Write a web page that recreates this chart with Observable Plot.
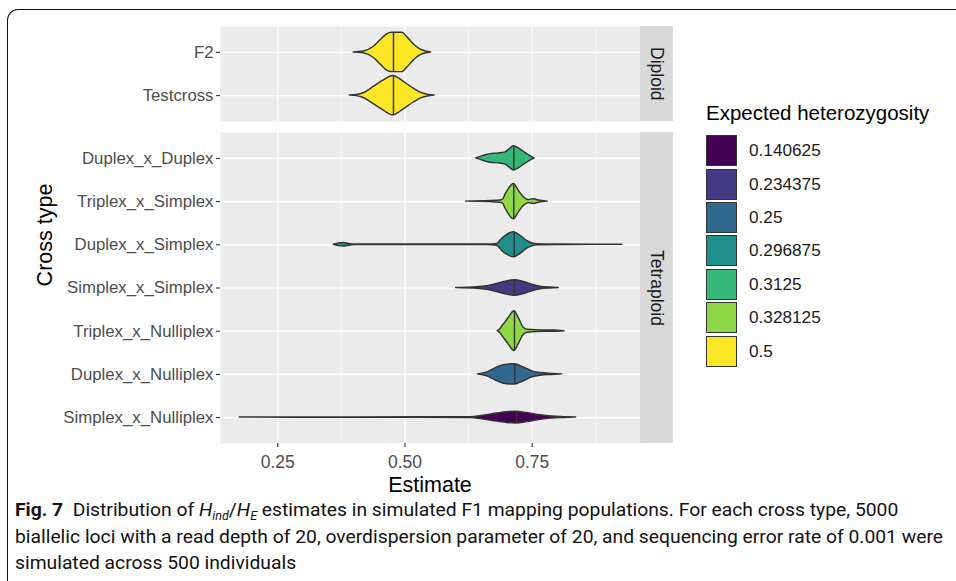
<!DOCTYPE html>
<html>
<head>
<meta charset="utf-8">
<script src="https://cdn.jsdelivr.net/npm/d3@7"></script>
<script src="https://cdn.jsdelivr.net/npm/@observablehq/plot@0.6"></script>
<style>
  html, body { margin: 0; padding: 0; background: #fff; }
  body { width: 956px; height: 581px; overflow: hidden; position: relative; font-family: "Liberation Sans", Arial, sans-serif; }
  #frame { position: absolute; left: 7px; top: 9px; width: 1000px; height: 620px; border-left: 1.5px solid #111; border-top: 1.5px solid #111; border-top-left-radius: 11px; }
  .abs { position: absolute; }
  .strip { position: absolute; background: #D9D9D9; display: flex; align-items: center; justify-content: center; }
  .strip span { writing-mode: vertical-rl; font-size: 17.5px; color: #1A1A1A; }
  #ylab { position: absolute; left: 45px; top: 235px; transform: translate(-50%, -50%) rotate(-90deg); font-size: 21.5px; color: #000; white-space: nowrap; }
  #xlab { position: absolute; left: 430px; top: 485px; transform: translate(-50%, -50%); font-size: 21.5px; color: #000; white-space: nowrap; }
  #legend { position: absolute; left: 706px; top: 101px; }
  #legend .title { font-size: 20.5px; color: #000; white-space: nowrap; height: 33px; }
  #legend .row { display: flex; align-items: center; height: 33.4px; }
  #legend .key { width: 29px; height: 29px; border: 1.4px solid #333; box-sizing: content-box; }
  #legend .lab { margin-left: 12px; font-size: 17.2px; color: #1A1A1A; }
  #caption { position: absolute; left: 15px; top: 497px; font-family: "Roboto", "Noto Sans", sans-serif; font-size: 18.5px; color: #111; transform-origin: 0 0; }
  #caption .line { white-space: nowrap; height: 26.5px; line-height: 26.5px; }
  #caption b { font-weight: bold; }
  #caption sub { font-size: 12px; line-height: 0; vertical-align: -4px; }
</style>
</head>
<body>
<div id="frame"></div>
<div id="topPlot" class="abs" style="left:0;top:0"></div>
<div id="botPlot" class="abs" style="left:0;top:121px"></div>
<div class="strip" style="left:640px;top:26px;width:33px;height:95px"><span>Diploid</span></div>
<div class="strip" style="left:640px;top:132px;width:33px;height:311px"><span>Tetraploid</span></div>
<div id="ylab">Cross type</div>
<div id="xlab">Estimate</div>
<div id="legend"></div>
<div id="caption">
  <div class="line"><b>Fig. 7</b>&nbsp; Distribution of <i>H<sub>ind</sub></i>/<i>H<sub>E</sub></i> estimates in simulated F1 mapping populations. For each cross type, 5000</div>
  <div class="line" id="capLine2">biallelic loci with a read depth of 20, overdispersion parameter of 20, and sequencing error rate of 0.001 were</div>
  <div class="line">simulated across 500 individuals</div>
</div>
<script>
// ---------------- data ----------------
const diploidTypes = ["F2", "Testcross"];
const tetraploidTypes = ["Duplex_x_Duplex", "Triplex_x_Simplex", "Duplex_x_Simplex", "Simplex_x_Simplex", "Triplex_x_Nulliplex", "Duplex_x_Nulliplex", "Simplex_x_Nulliplex"];
const hetLevels = ["0.140625", "0.234375", "0.25", "0.296875", "0.3125", "0.328125", "0.5"];
const hetByType = {
  F2: "0.5", Testcross: "0.5",
  Duplex_x_Duplex: "0.3125", Triplex_x_Simplex: "0.328125", Duplex_x_Simplex: "0.296875",
  Simplex_x_Simplex: "0.234375", Triplex_x_Nulliplex: "0.328125", Duplex_x_Nulliplex: "0.25",
  Simplex_x_Nulliplex: "0.140625"
};
// medians of estimates and half-width of the violin at the median (category units)
const medianByType = {
  F2: 0.4774, Testcross: 0.4774, Duplex_x_Duplex: 0.7138, Triplex_x_Simplex: 0.7138,
  Duplex_x_Simplex: 0.7147, Simplex_x_Simplex: 0.7152, Triplex_x_Nulliplex: 0.7152,
  Duplex_x_Nulliplex: 0.7158, Simplex_x_Nulliplex: 0.7192
};
const medianWidthByType = {
  F2: 0.456, Testcross: 0.456, Duplex_x_Duplex: 0.28, Triplex_x_Simplex: 0.41,
  Duplex_x_Simplex: 0.29, Simplex_x_Simplex: 0.18, Triplex_x_Nulliplex: 0.46,
  Duplex_x_Nulliplex: 0.235, Simplex_x_Nulliplex: 0.135
};
// violin profiles: [estimate, half-width in category units]
const profileF2 = [[0.399,0],[0.419,0.02],[0.439,0.13],[0.452,0.28],[0.465,0.42],[0.475,0.456],[0.4945,0.456],[0.504,0.36],[0.517,0.19],[0.530,0.07],[0.541,0.02],[0.5515,0]];
const profileTestcross = [[0.3915,0],[0.405,0.012],[0.419,0.055],[0.4387,0.2],[0.4583,0.35],[0.4768,0.456],[0.4977,0.32],[0.5173,0.16],[0.5305,0.07],[0.545,0.02],[0.558,0]];
const profileDuplexDuplex = [[0.640,0],[0.655,0.06],[0.668,0.1],[0.684,0.115],[0.6975,0.14],[0.706,0.215],[0.7138,0.28],[0.7237,0.23],[0.7335,0.15],[0.7433,0.075],[0.755,0]];
const profileTriplexSimplex = [[0.620,0],[0.668,0.012],[0.6877,0.025],[0.693,0.05],[0.6975,0.16],[0.704,0.29],[0.7138,0.41],[0.7237,0.25],[0.7335,0.1],[0.7433,0.035],[0.7532,0.055],[0.763,0.025],[0.7807,0]];
const profileDuplexSimplex = [[0.360,0],[0.370,0.03],[0.380,0.04],[0.390,0.02],[0.400,0.005],[0.500,0.005],[0.660,0.005],[0.681,0.02],[0.691,0.14],[0.7008,0.23],[0.7138,0.29],[0.727,0.21],[0.740,0.09],[0.750,0.035],[0.7597,0.012],[0.800,0.005],[0.927,0]];
const profileSimplexSimplex = [[0.6006,0],[0.6419,0.016],[0.6615,0.04],[0.6812,0.093],[0.6975,0.146],[0.7152,0.18],[0.7335,0.14],[0.750,0.076],[0.7663,0.03],[0.785,0.01],[0.8022,0]];
const profileTriplexNulliplex = [[0.6824,0],[0.6877,0.053],[0.6942,0.155],[0.704,0.31],[0.7152,0.46],[0.7237,0.3],[0.7335,0.08],[0.7414,0.035],[0.7728,0.016],[0.7924,0.016],[0.8135,0]];
const profileDuplexNulliplex = [[0.6431,0],[0.6615,0.046],[0.6779,0.14],[0.6942,0.215],[0.7158,0.235],[0.7335,0.16],[0.750,0.07],[0.7663,0.03],[0.790,0.012],[0.809,0]];
const profileSimplexNulliplex = [[0.1753,0],[0.400,0.004],[0.6287,0.01],[0.6549,0.046],[0.6812,0.093],[0.7008,0.125],[0.7191,0.135],[0.7402,0.105],[0.7663,0.053],[0.7893,0.023],[0.8121,0.01],[0.8365,0]];
const profiles = {
  F2: profileF2, Testcross: profileTestcross,
  Duplex_x_Duplex: profileDuplexDuplex, Triplex_x_Simplex: profileTriplexSimplex,
  Duplex_x_Simplex: profileDuplexSimplex, Simplex_x_Simplex: profileSimplexSimplex,
  Triplex_x_Nulliplex: profileTriplexNulliplex, Duplex_x_Nulliplex: profileDuplexNulliplex,
  Simplex_x_Nulliplex: profileSimplexNulliplex
};
const xDomain = [0.1374, 0.9629];
const majorBreaks = [0.25, 0.50, 0.75];
const minorBreaks = [0.375, 0.625, 0.875];
const viridis7 = ["#440154", "#443A83", "#31688E", "#21908C", "#35B779", "#8FD744", "#FDE725"];

// ---------------- build ----------------
function violinRows(types) {
  const rows = [];
  types.forEach((t, i) => {
    profiles[t].forEach(([v, hw]) => rows.push({type: t, v, lo: i - hw, hi: i + hw, het: hetByType[t]}));
  });
  return rows;
}
function medianRows(types) {
  return types.map((t, i) => ({type: t, m: medianByType[t], lo: i - medianWidthByType[t], hi: i + medianWidthByType[t]}));
}
function panel(types, opts) {
  const n = types.length;
  const idx = d3.range(n);
  const marks = [
    Plot.frame({fill: "#EBEBEB", stroke: null}),
    Plot.gridX(minorBreaks, {stroke: "#fff", strokeOpacity: 1, strokeWidth: 0.6}),
    Plot.gridX(majorBreaks, {stroke: "#fff", strokeOpacity: 1, strokeWidth: 1.2}),
    Plot.gridY(idx, {stroke: "#fff", strokeOpacity: 1, strokeWidth: 1.2}),
    Plot.axisY(idx, {tickFormat: i => types[i], tickSize: 4, tickPadding: 3, label: null, fontSize: 16.8, stroke: "#333", strokeWidth: 1.1}),
    Plot.areaY(violinRows(types), {x: "v", y1: "lo", y2: "hi", z: "type", fill: "het", stroke: "#333", strokeWidth: 1.45, curve: "monotone-x"}),
    Plot.ruleX(medianRows(types), {x: "m", y1: "lo", y2: "hi", stroke: "#333", strokeWidth: 1.45})
  ];
  if (opts.xAxis) {
    marks.push(Plot.axisX(majorBreaks, {tickFormat: d3.format(".2f"), tickSize: 4, tickPadding: 8, label: null, fontSize: 17.5, stroke: "#333", strokeWidth: 1.1}));
  }
  return Plot.plot({
    width: 640,
    height: opts.height,
    marginLeft: 220, marginRight: 0, marginTop: opts.marginTop, marginBottom: opts.marginBottom,
    style: {background: "transparent", color: "#4D4D4D", fontFamily: "'Liberation Sans', Arial, sans-serif", overflow: "visible"},
    x: {domain: xDomain, axis: null},
    y: {domain: [-0.6, n - 0.4], reverse: true, axis: null},
    color: {domain: hetLevels, range: viridis7},
    marks
  });
}
document.getElementById("topPlot").append(panel(diploidTypes, {height: 121, marginTop: 26, marginBottom: 0}));
document.getElementById("botPlot").append(panel(tetraploidTypes, {height: 352, marginTop: 11, marginBottom: 30, xAxis: true}));

// legend
const legend = document.getElementById("legend");
const title = document.createElement("div");
title.className = "title";
title.textContent = "Expected heterozygosity";
legend.append(title);
hetLevels.forEach((lv, i) => {
  const row = document.createElement("div");
  row.className = "row";
  const key = document.createElement("div");
  key.className = "key";
  key.style.background = viridis7[i];
  const lab = document.createElement("div");
  lab.className = "lab";
  lab.textContent = lv;
  row.append(key, lab);
  legend.append(row);
});

// condense the caption so its second line spans the figure width like the journal's condensed face
const cap = document.getElementById("caption");
const l2 = document.getElementById("capLine2");
l2.style.display = "inline-block";
const w2 = l2.getBoundingClientRect().width;
l2.style.display = "";
const k = 928 / w2;
cap.style.transform = `scaleX(${k})`;
</script>
</body>
</html>
